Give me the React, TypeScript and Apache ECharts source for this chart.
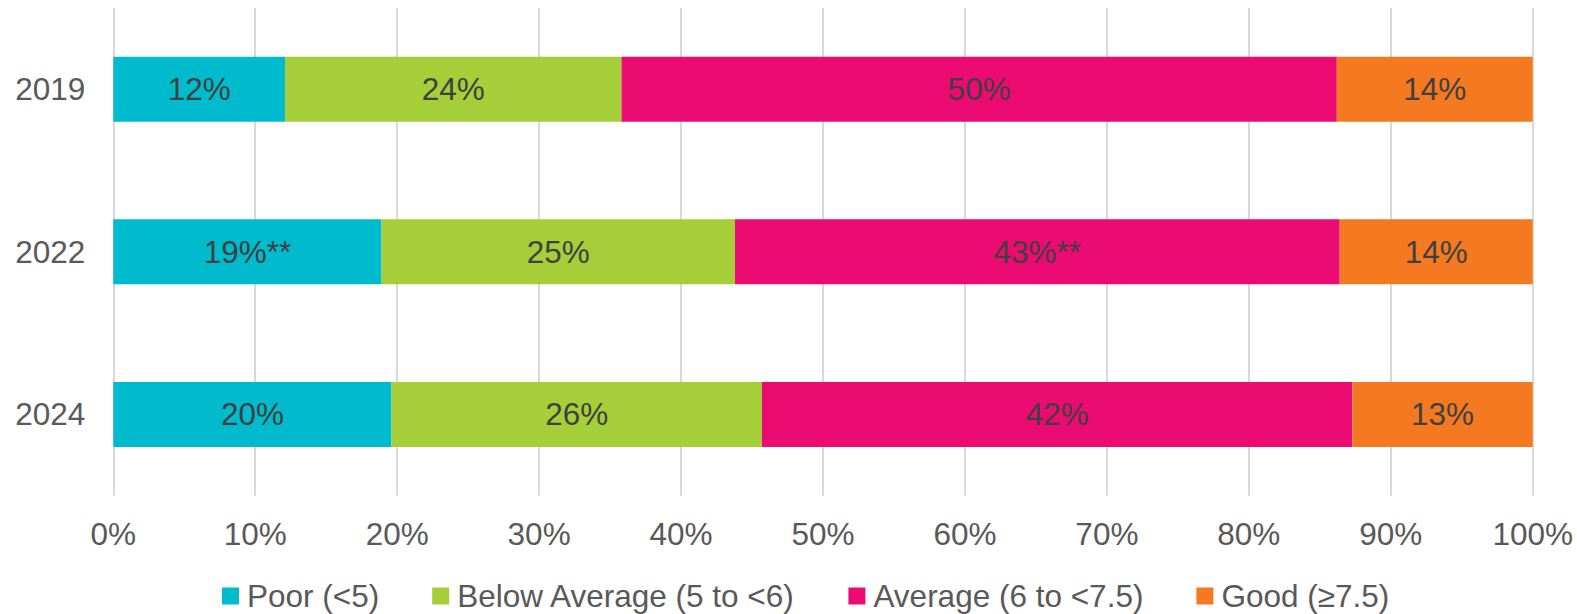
import React, { useEffect, useRef } from "react";
import * as echarts from "echarts";

// Survey years, top to bottom
const categories = ["2019", "2022", "2024"];

// Share of respondents in each score band (%)
const poor = [12.1, 18.9, 19.6];
const belowAverage = [23.7, 24.9, 26.1];
const average = [50.4, 42.6, 41.6];
const good = [13.8, 13.6, 12.7];

// Significance markers appended to some labels
const poorNotes = ["", "**", ""];
const belowAverageNotes = ["", "", ""];
const averageNotes = ["", "**", ""];
const goodNotes = ["", "", ""];

const seriesNames = [
  "Poor (<5)",
  "Below Average (5 to <6)",
  "Average (6 to <7.5)",
  "Good (≥7.5)",
];
const seriesColors = ["#00BACD", "#A6CE39", "#EC0B73", "#F47920"];

const FONT = "'Liberation Sans', Arial, sans-serif";
const FONT_SIZE = 31.5;

export default function App() {
  const ref = useRef<HTMLDivElement>(null);

  useEffect(() => {
    if (!ref.current) return;
    const chart = echarts.init(ref.current, null, { renderer: "svg" });

    const values = [poor, belowAverage, average, good];
    const notes = [poorNotes, belowAverageNotes, averageNotes, goodNotes];

    const series = values.map((vals, i) => ({
      name: seriesNames[i],
      type: "bar",
      stack: "total",
      barWidth: 65,
      data: vals,
      itemStyle: { color: seriesColors[i] },
      label: {
        show: true,
        position: "inside",
        color: "#404040",
        fontSize: FONT_SIZE,
        fontFamily: FONT,
        formatter: (p: any) =>
          `${Math.round(p.value)}%${notes[i][p.dataIndex]}`,
      },
    }));

    chart.setOption({
      animation: false,
      textStyle: { fontFamily: FONT },
      grid: { left: 113.3, right: 44.3, top: 8, bottom: 118.3 },
      legend: {
        left: 222,
        top: 580,
        padding: 0,
        icon: "rect",
        itemWidth: 17,
        itemHeight: 17,
        itemGap: 53,
        textStyle: {
          color: "#595959",
          fontSize: FONT_SIZE,
          fontFamily: FONT,
          padding: [0, 0, 0, 3],
        },
        data: seriesNames,
      },
      xAxis: {
        type: "value",
        min: 0,
        max: 100,
        interval: 10,
        axisLine: { show: false },
        axisTick: { show: false },
        axisLabel: {
          formatter: "{value}%",
          color: "#595959",
          fontSize: FONT_SIZE,
          fontFamily: FONT,
          margin: 22,
        },
        splitLine: { lineStyle: { color: "#D9D9D9", width: 2 } },
      },
      yAxis: {
        type: "category",
        inverse: true,
        data: categories,
        axisLine: { show: false },
        axisTick: { show: false },
        axisLabel: {
          color: "#595959",
          fontSize: FONT_SIZE,
          fontFamily: FONT,
          margin: 28,
        },
      },
      series,
    });

    return () => chart.dispose();
  }, []);

  return (
    <div
      ref={ref}
      style={{
        position: "fixed",
        left: 0,
        top: 0,
        width: 1577,
        height: 614,
        background: "#ffffff",
      }}
    />
  );
}
